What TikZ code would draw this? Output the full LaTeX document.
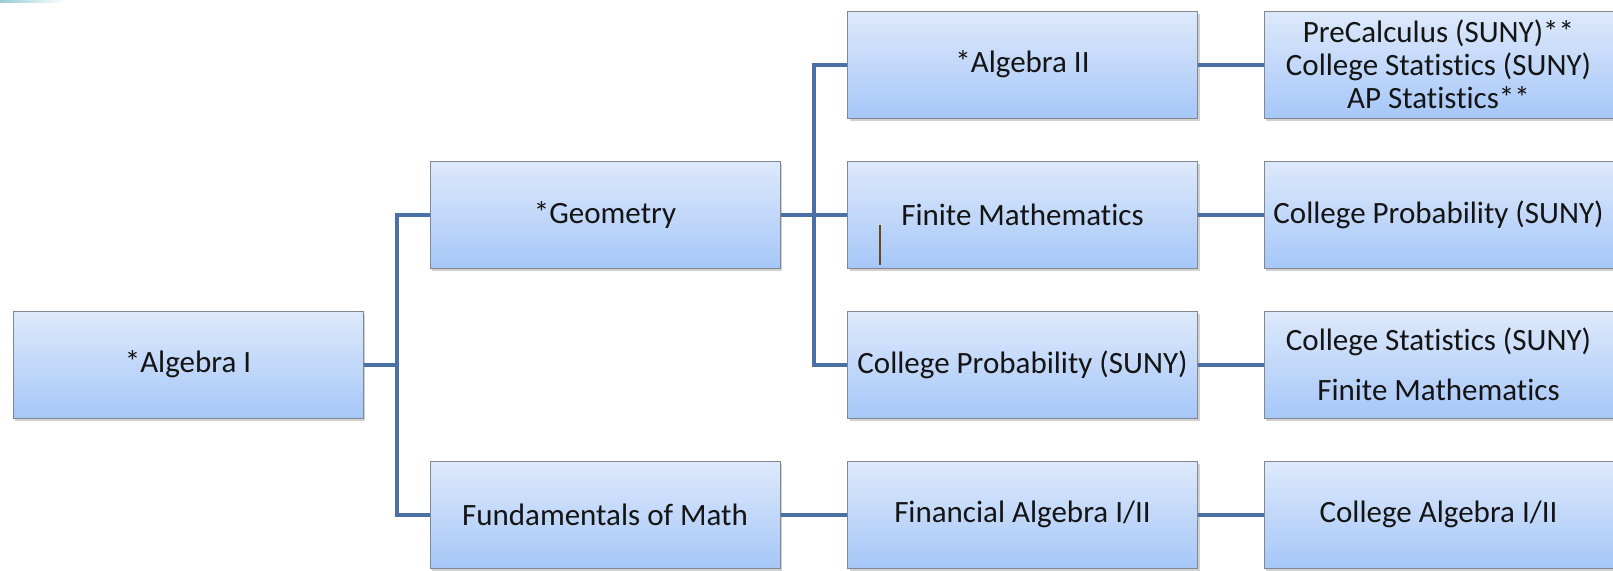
\documentclass[tikz,border=0pt]{standalone}
\usepackage{fontspec}
\setmainfont[Ligatures=NoCommon]{Carlito}
\usetikzlibrary{shadows}
\definecolor{boxtop}{RGB}{222,233,251}
\definecolor{boxbot}{RGB}{166,199,248}
\definecolor{boxline}{RGB}{130,136,146}
\definecolor{conncol}{RGB}{74,113,166}
\definecolor{txtcol}{RGB}{20,20,20}
\definecolor{cursorcol}{RGB}{110,70,20}
\definecolor{tealart}{RGB}{150,205,215}
\tikzset{
  box/.style={draw=boxline, line width=1pt, top color=boxtop, bottom color=boxbot,
    minimum width=350pt, minimum height=107pt, inner sep=0pt, align=center,
    text=txtcol, font=\fontsize{31}{33}\selectfont,
    drop shadow={shadow xshift=2pt, shadow yshift=-3pt, opacity=0.3, fill=black!60}},
  conn/.style={draw=conncol, line width=4pt, line join=miter},
}
\begin{document}
\begin{tikzpicture}[x=1pt,y=-1pt]
\useasboundingbox (0,0) rectangle (1613,570);
\shade[left color=tealart, right color=white] (0,0) rectangle (66,2.5);
% columns 188, 605, 1022.5, 1438.5 ; rows 64.5, 214.5, 364.5, 514.5
\coordinate (b1) at (397,0);
\coordinate (b2) at (814,0);
\draw[conn] (430,214.5) -- (b1 |- 0,214.5) -- (b1 |- 0,514.5) -- (430,514.5);
\draw[conn] (848,64.5) -- (b2 |- 0,64.5) -- (b2 |- 0,364.5) -- (848,364.5);
\node[box] (alg1) at (188,364.5) {*Algebra I};
\node[box] (geo) at (605,214.5) {*Geometry};
\node[box] (fund) at (605,514.5) {Fundamentals of Math};
\node[box] (alg2) at (1022.5,64.5) {*Algebra II};
\node[box] (fin) at (1022.5,214.5) {Finite Mathematics};
\node[box] (cp) at (1022.5,364.5) {College Probability (SUNY)};
\node[box] (fa) at (1022.5,514.5) {Financial Algebra I/II};
\node[box, minimum width=349pt] (r1) at (1438.5,64.5) {PreCalculus (SUNY)**\\College Statistics (SUNY)\\AP Statistics**};
\node[box, minimum width=349pt] (r2) at (1438.5,214.5) {College Probability (SUNY)};
\node[box, minimum width=349pt] (r3) at (1438.5,364.5) {College Statistics (SUNY)\\[17pt]Finite Mathematics};
\node[box, minimum width=349pt] (r4) at (1438.5,514.5) {College Algebra I/II};
\draw[conn] (alg1.east) -- (alg1.east -| b1);
\draw[conn] (geo.west -| b1) -- (geo.west);
\draw[conn] (fund.west -| b1) -- (fund.west);
\draw[conn] (alg2.west -| b2) -- (alg2.west);
\draw[conn] (cp.west -| b2) -- (cp.west);
\draw[conn] (geo.east) -- (fin.west);
\draw[conn] (alg2.east) -- (r1.west);
\draw[conn] (fin.east) -- (r2.west);
\draw[conn] (cp.east) -- (r3.west);
\draw[conn] (fund.east) -- (fa.west);
\draw[conn] (fa.east) -- (r4.west);
\coordinate (cur1) at (880,225);
\coordinate (cur2) at (880,265);
\draw[cursorcol, line width=1.3pt] (cur1) -- (cur2);
\end{tikzpicture}
\end{document}
